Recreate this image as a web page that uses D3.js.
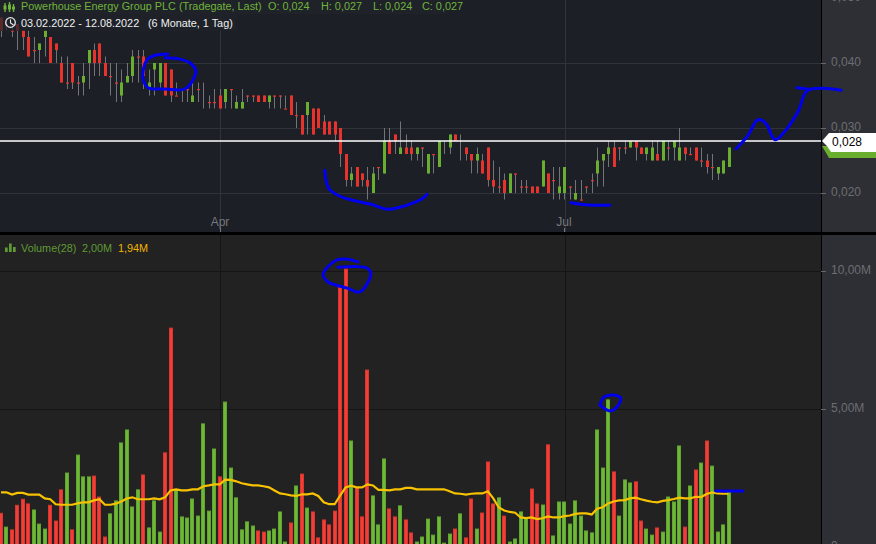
<!DOCTYPE html>
<html><head><meta charset="utf-8">
<script src="https://cdn.jsdelivr.net/npm/d3@7/dist/d3.min.js"></script>
<style>html,body{margin:0;padding:0;background:#222;overflow:hidden}svg{display:block}text{font-family:"Liberation Sans",Arial,sans-serif}</style>
</head><body><svg id="c" width="876" height="544"></svg>
<script>
// prices in thousandths of a euro
const opens=[47,46,45,46,45,44,42,42,44,44,
43,40,37,40,37,37,40,42,43,40,
38,37,35,37,38,41,41,36,39,37,
40,39,35,36,36,34,36,null,34,34,
35,34,36,33,33,35,35,35,35,34,
35,35,33,35,32,32,32,33,33,31,
31,31,30,26,22,24,23,22,20,24,
23,28,29,26,27,27,26,27,23,26,
24,null,27,29,null,27,26,25,25,27,
22,21,22,20,23,21,21,21,21,21,
23,22,20,20,21,19,19,21,22,23,
25,26,27,27,27,27,28,27,26,25,
26,25,27,27,25,27,26,27,25,25,
24,23,23,24];
const closes=[45,46,45,45,44,41,42,43,45,40,
42,37,37,37,37,38,42,40,40,38,
38,37,37,38,41,41,38,37,40,40,
35,35,35,36,36,35,36,null,34,34,
33,36,36,34,34,35,35,34,34,35,
35,35,33,32,32,29,34,29,30,29,
29,29,26,22,23,21,22,21,23,24,
28,26,28,27,26,26,27,27,26,26,
28,null,29,28,null,26,25,26,23,22,
21,21,20,23,23,21,21,20,20,25,
20,22,21,24,21,20,19,21,22,25,
26,27,24,27,27,28,27,26,27,27,
25,28,27,28,27,26,26,25,25,24,
24,24,25,27];
const highs=[47,47,46,46,45,45,44,43,45,44,
43,41,41,40,38,40,42,43,43,41,
40,40,39,40,42,42,42,39,40,40,
40,39,37,36,36,37,37,37,35,36,
36,36,36,35,36,35,35,35,35,35,
35,35,35,35,34,32,34,33,33,32,
31,31,30,26,24,24,23,24,24,24,
30,30,29,31,29,28,27,27,26,26,
28,28,29,29,29,27,26,27,26,27,
25,24,23,23,23,22,22,21,21,25,
23,24,24,24,21,22,22,21,23,27,
26,28,28,27,28,28,28,27,27,28,
28,28,28,28,30,27,27,27,27,26,
26,24,25,27];
const lows=[44,45,44,42,42,41,40,40,41,40,
40,37,36,36,35,35,36,38,38,38,
35,34,34,37,37,37,36,35,35,36,
35,34,35,34,34,34,34,33,33,33,
33,33,33,33,33,34,34,34,34,33,
33,33,33,32,30,29,29,29,30,29,
29,28,24,21,21,21,21,19,20,22,
23,26,26,26,26,25,25,24,23,23,
24,26,26,28,25,25,23,23,23,21,
20,20,19,20,20,20,20,20,20,21,
20,19,19,19,19,19,19,20,20,21,
21,24,24,25,26,27,25,26,25,25,
25,25,25,25,25,25,26,25,24,23,
22,22,23,24];
// volume in millions
const volumes=[1.22,0.72,0.62,1.51,1.73,1.56,1.34,0.83,0.65,1.51,
0.94,2.07,2.68,0.62,3.33,2.54,2.54,2.57,1.81,0.36,
1.20,1.67,3.77,4.24,1.45,2.07,2.61,0.69,1.67,0.54,
3.41,7.93,2.07,1.09,1.05,1.74,1.12,4.46,1.30,3.55,
2.54,5.25,2.86,1.78,0.62,0.91,0.76,0.58,0.54,0.58,
0.65,1.27,0.18,0.87,2.21,2.64,1.41,1.27,0.33,0.98,
0.80,1.30,9.40,10.07,3.84,2.14,1.09,6.41,1.85,0.80,
3.19,1.38,1.09,1.49,0.98,0.51,0.18,0.36,1.01,0.43,
1.09,0.14,0.47,0.65,1.20,0.33,1.74,0.65,1.23,3.08,
1.56,1.78,1.12,0.18,0.29,1.27,1.05,2.10,1.56,1.52,
3.70,0.40,1.63,1.63,0.83,1.67,1.12,0.58,0.51,4.24,
2.86,5.33,2.72,1.12,2.43,2.32,2.36,0.94,0.65,0.43,
0.69,0.54,1.81,1.63,3.66,0.72,2.21,2.79,3.04,3.84,
2.93,0.54,0.80,1.99];
const volumeSides=("r g r r r r g g g r "+
"r r g r g g g r r r "+
"g g g g g g r g g g "+
"r r g g g g g g g g "+
"r g g g g g g r r g "+
"g g g r g r g r r r "+
"r r r r g r r r g g "+
"g r r g r r g g g g "+
"g g g r g r r g r r "+
"r g r g g g g r r g "+
"r g g g g g g g g g "+
"g g r g g g r r g g "+
"r g g g g r g r g r "+
"g g g g").split(" ");
const volumeAverage=[1.98,1.98,1.90,1.96,1.96,1.90,1.90,1.90,1.76,1.73,
1.55,1.53,1.53,1.53,1.58,1.62,1.62,1.69,1.73,1.53,
1.53,1.57,1.65,1.76,1.80,1.73,1.73,1.73,1.76,1.73,
1.80,2.05,2.09,2.05,2.05,2.09,2.09,2.20,2.23,2.27,
2.27,2.44,2.43,2.38,2.31,2.27,2.23,2.23,2.20,2.16,
2.05,1.94,1.91,1.87,1.85,1.91,1.91,1.94,1.85,1.62,
1.55,1.55,1.86,2.16,2.22,2.16,2.16,2.27,2.23,2.07,
2.07,2.05,2.09,2.09,2.14,2.14,2.09,2.09,2.09,2.09,
2.09,2.09,2.02,1.94,1.93,1.90,1.93,1.94,1.94,2.02,
1.76,1.43,1.32,1.27,1.24,1.07,1.05,1.07,1.01,1.04,
1.11,1.07,1.07,1.12,1.14,1.20,1.22,1.22,1.18,1.39,
1.44,1.58,1.65,1.69,1.70,1.76,1.79,1.73,1.68,1.64,
1.62,1.67,1.70,1.74,1.79,1.76,1.76,1.82,1.81,1.92,
1.98,1.94,1.93,1.93];
const priceTicks=[20,30,40,50];
const volumeTicks=[0,5,10];
const monthLabels=["Apr","Jul"];
const monthIndex=[40,103];
const lastPrice=28;
// hand-drawn ink, as [bar index, price] or [bar index, volume]
const priceInk=[
[[30.5,41.4],[28.2,41.2],[26.7,40.5],[26,38.9],[26,37.4],[26.9,36.2],[30,36],[33.6,36],[35.3,37.7],[35.6,38.9],[34.6,40],[32.7,40.6],[30,40.8]],
[[59.2,23.5],[59.4,22],[60,20.6],[62,19.5],[64.7,18.8],[67.5,18.3],[70.7,17.5],[72.9,17.8],[75.7,18.6],[77,19.1],[77.9,19.8]],
[[104.2,18.5],[106.8,18.2],[111.3,18.1]],
[[134.4,26.8],[136.6,28.9],[138.2,31.2],[139.1,31.2],[140,30.5],[141.5,28.2],[143,29.2],[145.7,32.5],[147.5,35.8],[153.6,35.8]],
[[145.5,36.2],[147.5,36]]
];
const volumeInk=[
[[65.3,10.33],[63.3,10.43],[61.4,10.4],[58.9,9.89],[59.8,9.6],[63.3,9.38],[65.6,9.24],[67.1,9.6],[67.6,9.93],[66.9,10.11],[61.6,10.14]],
[[109.5,5.14],[111.3,4.93],[112.6,5.07],[113.3,5.4],[111.7,5.51],[110.2,5.43],[109.5,5.14]],
[[130.7,2.03],[135.6,2.03]]
];

const W=876,H=544,plotR=821,pBot=232,vTop=235;
const RED="#e8332c",GREEN="#6aae2f",VRED="#f53d37",VGREEN="#6db835",VREDE="#d8372f",VGREENE="#62a530",GREY="#737476",INK="#0000ee";
const svg=d3.select("#c");
const x=d3.scaleLinear().domain([0,133]).range([1,728.5]);
const yP=d3.scaleLinear().domain([20,40]).range([193,63]);
const yV=d3.scaleLinear().domain([0,10]).range([547,271]);
const defs=svg.append("defs");
defs.append("clipPath").attr("id","pc").append("rect").attr("width",plotR).attr("height",pBot);
defs.append("clipPath").attr("id","vc").append("rect").attr("y",vTop).attr("width",plotR).attr("height",H-vTop);

svg.append("rect").attr("width",W).attr("height",H).attr("fill","#2e2f35");
svg.append("rect").attr("width",plotR).attr("height",pBot).attr("fill","#1c1f25");
svg.append("rect").attr("y",vTop).attr("width",plotR).attr("height",H-vTop).attr("fill","#222222");

const pG=svg.append("g").attr("clip-path","url(#pc)");
const vG=svg.append("g").attr("clip-path","url(#vc)");

// grid
pG.selectAll("line.h").data(priceTicks).join("line").attr("x1",0).attr("x2",plotR)
 .attr("y1",d=>Math.round(yP(d))+.5).attr("y2",d=>Math.round(yP(d))+.5).attr("stroke","#30333a");
pG.selectAll("line.v").data(monthIndex).join("line").attr("class","v")
 .attr("x1",d=>Math.round(x(d)+.5)+.5).attr("x2",d=>Math.round(x(d)+.5)+.5).attr("y1",0).attr("y2",pBot).attr("stroke","#30333a");
vG.selectAll("line.h").data(volumeTicks).join("line").attr("x1",0).attr("x2",plotR)
 .attr("y1",d=>Math.round(yV(d))+.5).attr("y2",d=>Math.round(yV(d))+.5).attr("stroke","#151515");
vG.selectAll("line.v").data(monthIndex).join("line").attr("class","v")
 .attr("x1",d=>Math.round(x(d)+.5)+.5).attr("x2",d=>Math.round(x(d)+.5)+.5).attr("y1",vTop).attr("y2",H).attr("stroke","#151515");

// candles
const idx=d3.range(opens.length);
pG.selectAll("line.w").data(idx).join("line").attr("class","w")
 .attr("x1",i=>Math.round(x(i))+.5).attr("x2",i=>Math.round(x(i))+.5)
 .attr("y1",i=>yP(highs[i])).attr("y2",i=>yP(lows[i])).attr("stroke",GREY);
pG.selectAll("rect.b").data(idx.filter(i=>opens[i]!==null)).join("rect").attr("class","b")
 .attr("x",i=>Math.round(x(i))-1).attr("width",3)
 .attr("y",i=>yP(Math.max(opens[i],closes[i])))
 .attr("height",i=>Math.max(1.2,Math.abs(yP(opens[i])-yP(closes[i]))))
 .attr("fill",i=>closes[i]>opens[i]?GREEN:RED);

// last price line
pG.append("line").attr("x1",0).attr("x2",plotR).attr("y1",yP(lastPrice)).attr("y2",yP(lastPrice)).attr("stroke","#fff").attr("stroke-width",1.4);

// volume
vG.selectAll("rect.v").data(idx).join("rect").attr("class","v")
 .attr("x",i=>Math.round(x(i))-1.5).attr("width",3)
 .attr("y",i=>yV(volumes[i])).attr("height",i=>yV(0)-yV(volumes[i]))
 .attr("fill",i=>volumeSides[i]==="r"?VRED:VGREEN)
 .attr("stroke",i=>volumeSides[i]==="r"?VREDE:VGREENE);
vG.append("path").datum(idx).attr("fill","none").attr("stroke","#f7c200").attr("stroke-width",2.2)
 .attr("d",d3.line().x(i=>x(i)).y(i=>yV(volumeAverage[i])));

// axis column dividers
svg.append("rect").attr("x",plotR).attr("width",1).attr("height",H).attr("fill","#000");
svg.append("rect").attr("y",pBot).attr("width",W).attr("height",vTop-pBot).attr("fill","#000");

// axes
function styleAxis(g){g.select(".domain").remove();
 g.selectAll("line").attr("stroke","#66676b");
 g.selectAll("text").attr("fill","#6c6d71").attr("dy","0.22em").style("font-size","12px").style("font-family",'"Liberation Sans",Arial,sans-serif');}
svg.append("g").attr("transform",`translate(${plotR},0)`)
 .call(d3.axisRight(yP).tickValues(priceTicks).tickSize(5).tickPadding(5).tickFormat(d=>(d/1000).toFixed(3).replace(".",",")))
 .call(styleAxis);
svg.append("g").attr("transform",`translate(${plotR},0)`)
 .call(d3.axisRight(yV).tickValues(volumeTicks).tickSize(5).tickPadding(5).tickFormat(d=>d===0?"0":d.toFixed(2).replace(".",",")+"M"))
 .call(styleAxis);
// month labels
monthLabels.forEach((m,k)=>{
 const px=Math.round(x(monthIndex[k]));
 svg.append("text").attr("x",px).attr("y",226).attr("text-anchor","middle").attr("fill","#77787c").style("font-size","12px").text(m);
 svg.append("line").attr("x1",px+.5).attr("x2",px+.5).attr("y1",228).attr("y2",232).attr("stroke","#77787c");
});

// price tag
const ty=yP(lastPrice);
svg.append("path").attr("fill",GREEN).attr("d",d3.line()([[plotR+1,ty+5],[W,ty+5],[W,158],[plotR+8,158]]));
svg.append("path").attr("fill","#fff").attr("d",d3.line()([[plotR+1,ty],[plotR+8,133],[W,133],[W,152],[plotR+10,152],[plotR+6,ty+5]]));
svg.append("text").attr("x",832).attr("y",ty+4.5).attr("fill","#000").style("font-size","12px").text("0,028");

// headers
const hdr=svg.append("g");
hdr.append("rect").attr("width",447).attr("height",14).attr("fill","#20232a").attr("fill-opacity",.88);
hdr.append("rect").attr("y",14).attr("width",237).attr("height",17).attr("fill","#20232a").attr("fill-opacity",.72);
const H1="#6fb43a",FS="10.85px";
[[5,3,9],[9.5,2,10],[13.5,4,8]].forEach(([a,b,c])=>{
 hdr.append("line").attr("x1",a).attr("x2",a).attr("y1",b).attr("y2",b+c).attr("stroke",H1).attr("stroke-width",1.4);
 hdr.append("rect").attr("x",a-1.5).attr("y",b+2.5).attr("width",3).attr("height",c-5).attr("fill",H1);
});
hdr.append("text").attr("x",21).attr("y",10).attr("fill",H1).style("font-size",FS).text("Powerhouse Energy Group PLC (Tradegate, Last)");
[["O: 0,024",268],["H: 0,027",321],["L: 0,024",373],["C: 0,027",422]].forEach(([t,px])=>{
 hdr.append("text").attr("x",px).attr("y",10).attr("fill",H1).style("font-size",FS).text(t);
});
hdr.append("circle").attr("cx",10.5).attr("cy",22.5).attr("r",4.8).attr("fill","none").attr("stroke","#e8e8e8").attr("stroke-width",1.3);
hdr.append("path").attr("fill","none").attr("stroke","#e8e8e8").attr("stroke-width",1.1).attr("d",d3.line()([[10.5,19.5],[10.5,23],[13.5,25]]));
hdr.append("text").attr("x",21).attr("y",27).attr("fill","#f0f0f0").style("font-size",FS).text("03.02.2022 - 12.08.2022");
hdr.append("text").attr("x",148).attr("y",27).attr("fill","#f0f0f0").style("font-size",FS).text("(6 Monate, 1 Tag)");

const VL="#5f9a34";
[[5,247.5,4.5],[9,243.5,8.5],[13,247,5]].forEach(([a,b,c])=>{svg.append("rect").attr("x",a).attr("y",b).attr("width",2.7).attr("height",c).attr("fill",VL);});
svg.append("text").attr("x",21).attr("y",252).attr("fill",VL).style("font-size",FS).text("Volume(28)");
svg.append("text").attr("x",82).attr("y",252).attr("fill",VL).style("font-size",FS).text("2,00M");
svg.append("text").attr("x",118).attr("y",252).attr("fill","#f0b400").style("font-size",FS).text("1,94M");

// ink annotations
const inkP=d3.line().x(d=>x(d[0])).y(d=>yP(d[1])).curve(d3.curveCatmullRom);
const inkV=d3.line().x(d=>x(d[0])).y(d=>yV(d[1])).curve(d3.curveCatmullRom);
const ink=svg.append("g").attr("fill","none").attr("stroke",INK).attr("stroke-width",3).attr("stroke-linecap","round").attr("stroke-linejoin","round");
ink.selectAll("path.p").data(priceInk).join("path").attr("class","p").attr("d",inkP);
ink.selectAll("path.q").data(volumeInk).join("path").attr("class","q").attr("d",inkV);
</script></body></html>
